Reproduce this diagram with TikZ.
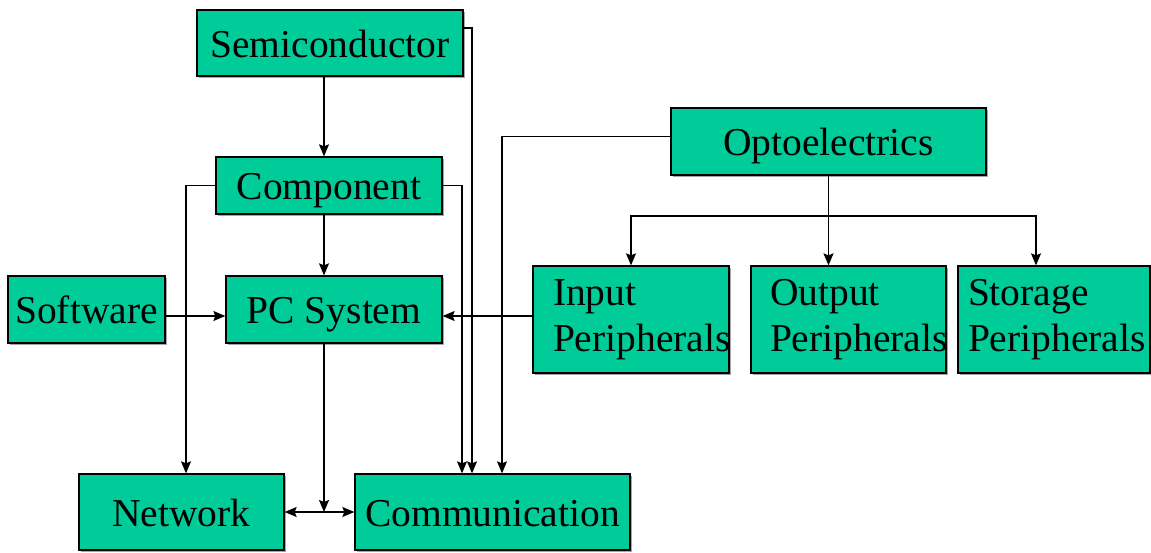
\documentclass[tikz,border=0pt]{standalone}
\usepackage{fontspec}
\setmainfont{Liberation Serif}
\usetikzlibrary{arrows.meta,shadows}
\definecolor{boxgreen}{RGB}{0,204,153}
\tikzset{
  box/.style={draw=black, line width=1.3pt, fill=boxgreen, inner sep=0pt,
    drop shadow={shadow xshift=1.5pt, shadow yshift=-1.5pt, fill=black, opacity=0.35},
    font=\fontsize{39.5}{46}\selectfont},
  sbox/.style={box, text height=30pt, text depth=2pt},
  pbox/.style={box, align=left, minimum height=107pt},
  arr/.style={line width=1.3pt, -{Stealth[length=12pt,width=10pt,inset=2pt]}},
  biarr/.style={line width=1.3pt, {Stealth[length=12pt,width=10pt,inset=2pt]}-{Stealth[length=12pt,width=10pt,inset=2pt]}}
}
\begin{document}
\begin{tikzpicture}[x=1pt,y=-1pt]
  \useasboundingbox (0,0) rectangle (1151,552);
  % boxes
  \node[sbox, minimum width=266pt, minimum height=66pt] (semi) at (330,43) {Semiconductor};
  \node[sbox, minimum width=226pt, minimum height=57pt] (comp) at (329,185.5) {Component};
  \node[sbox, minimum width=216pt, minimum height=67pt] (pc) at (334,309.5) {PC System};
  \node[sbox, minimum width=157pt, minimum height=67pt] (soft) at (86.5,309.5) {Software};
  \node[sbox, minimum width=205pt, minimum height=76pt] (net) at (181.5,512) {Network};
  \node[sbox, minimum width=275pt, minimum height=76pt] (comm) at (492.5,512) {Communication};
  \node[sbox, minimum width=315pt, minimum height=67pt] (opto) at (828.5,141.5) {Optoelectrics};
  \node[pbox, text width=156pt, inner xsep=20pt] (inp) at (631,319.5) {Input\\\mbox{Peripherals}};
  \node[pbox, text width=157pt, inner xsep=19pt] (outp) at (848.5,319.5) {Output\\\mbox{Peripherals}};
  \node[pbox, text width=172pt, inner xsep=10pt] (stor) at (1054,319.5) {Storage\\\mbox{Peripherals}};
  \coordinate (xa) at (324,0);
  \coordinate (ya) at (0,316);
  \coordinate (br) at (828.5,216);
  % connectors
  \draw[arr] (semi.south -| xa) -- (comp.north -| xa);
  \draw[arr] (comp.south -| xa) -- (pc.north -| xa);
  \draw[arr] (pc.south -| xa) -- (net.east -| xa);
  \draw[biarr] (net) -- (comm);
  \draw[arr] (soft.east |- ya) -- (pc.west |- ya);
  \draw[arr] (inp.west |- ya) -- (pc.east |- ya);
  \draw[arr] ([yshift=15pt]semi.east) -| ([xshift=-20.5pt]comm.north);
  \draw[arr] (comp.east) -| ([xshift=-30.5pt]comm.north);
  \draw[arr] (comp.west) -| ([xshift=4.5pt]net.north);
  \draw[arr] ([yshift=5pt]opto.west) -| ([xshift=9.5pt]comm.north);
  \draw[arr] (opto.south) -- (opto.south |- outp.north);
  \draw[arr] (br) -| (inp.north);
  \draw[arr] (br) -| ([xshift=-18pt]stor.north);
\end{tikzpicture}
\end{document}
